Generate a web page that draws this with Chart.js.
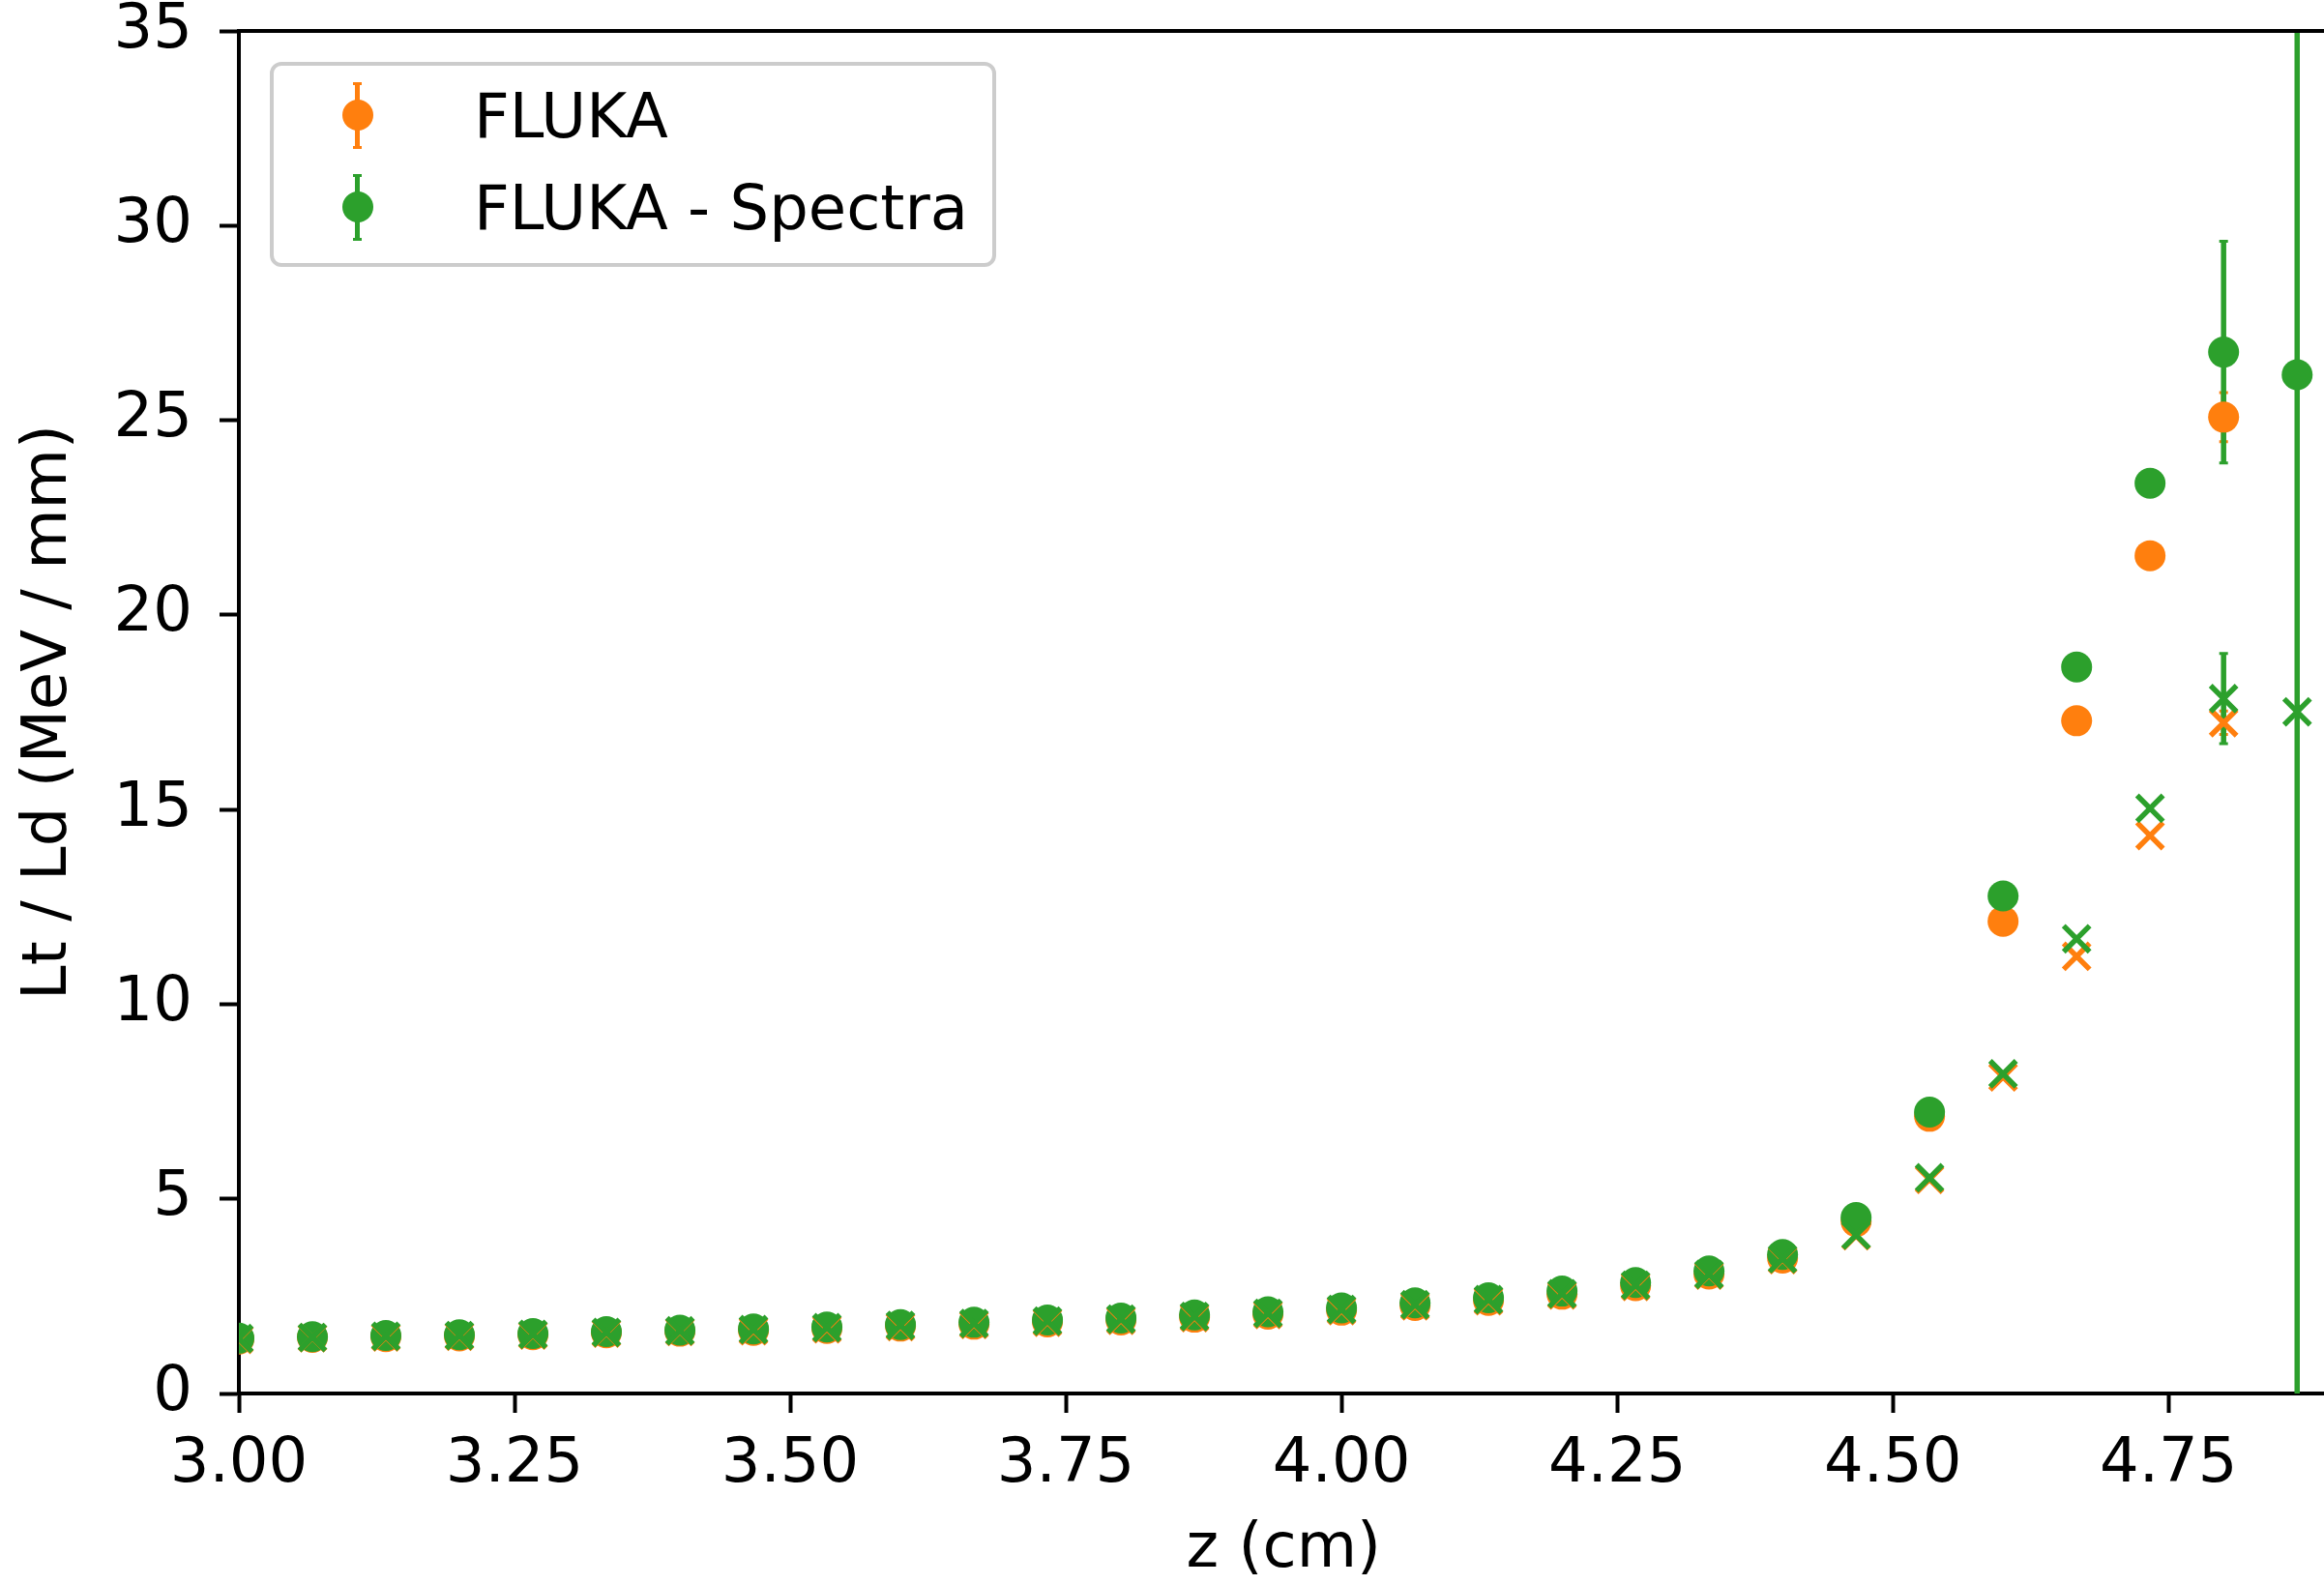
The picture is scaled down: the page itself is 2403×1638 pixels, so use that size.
<!DOCTYPE html>
<html>
<head>
<meta charset="utf-8">
<script src="https://cdn.jsdelivr.net/npm/chart.js@4.4.1/dist/chart.umd.min.js"></script>
<style>
  html, body { margin: 0; padding: 0; background: #fff; overflow: hidden; }
  #wrap { position: relative; width: 2432px; height: 1638px; }
  #grafico { display: block; width: 2432px; height: 1638px; }
  #legend {
    position: absolute; left: 279px; top: 64px; width: 743px; height: 204px;
    border: 4px solid #cccccc; border-radius: 12px; background: rgba(255,255,255,0.8);
    font-family: "DejaVu Sans", sans-serif; font-size: 64px; color: #000;
  }
  .item { position: absolute; left: 0; width: 100%; height: 95px; }
  .mk { position: absolute; left: 71px; width: 32px; height: 95px; }
  .mk .bar { position: absolute; left: 13px; top: 16px; width: 5px; height: 66px; }
  .mk .cap { position: absolute; left: 11px; width: 9px; height: 3px; }
  .mk .dot { position: absolute; left: 0; top: 33px; width: 32px; height: 32px; border-radius: 50%; }
  .lbl { position: absolute; left: 207px; top: 18px; line-height: 64px; white-space: nowrap; }
</style>
</head>
<body>
<div id="wrap">
  <canvas id="grafico" width="2432" height="1638"></canvas>
  <div id="legend"></div>
</div>
<script>
// z (cm)
const zVals = [3.0, 3.0667, 3.1333, 3.2, 3.2667, 3.3333, 3.4, 3.4667, 3.5333, 3.6, 3.6667, 3.7333, 3.8, 3.8667, 3.9333,
  4.0, 4.0667, 4.1333, 4.2, 4.2667, 4.3333, 4.4, 4.4667, 4.5333, 4.6, 4.6667, 4.7333, 4.8, 4.8667];

// FLUKA (circulos y cruces)
const flukaCirc = [1.40, 1.44, 1.46, 1.48, 1.51, 1.56, 1.60, 1.62, 1.67, 1.73, 1.78, 1.84, 1.89, 1.96, 2.04,
  2.14, 2.26, 2.39, 2.55, 2.77, 3.07, 3.48, 4.42, 7.12, 12.13, 17.28, 21.52, 25.08];
const flukaCircErr = [0, 0, 0, 0, 0, 0, 0, 0, 0, 0, 0, 0, 0, 0, 0, 0, 0, 0, 0, 0, 0, 0, 0, 0, 0, 0, 0, 0.63];
const flukaCruz = [1.39, 1.43, 1.45, 1.47, 1.50, 1.55, 1.59, 1.61, 1.66, 1.72, 1.77, 1.83, 1.88, 1.95, 2.03,
  2.13, 2.25, 2.38, 2.53, 2.75, 3.04, 3.44, 4.05, 5.50, 8.13, 11.23, 14.33, 17.23];
const flukaCruzErr = [0, 0, 0, 0, 0, 0, 0, 0, 0, 0, 0, 0, 0, 0, 0, 0, 0, 0, 0, 0, 0, 0, 0, 0, 0, 0, 0, 0.3];

// FLUKA - Spectra
const spectraCirc = [1.42, 1.46, 1.49, 1.51, 1.54, 1.59, 1.63, 1.66, 1.71, 1.77, 1.83, 1.89, 1.94, 2.02, 2.10,
  2.20, 2.33, 2.46, 2.63, 2.85, 3.15, 3.57, 4.52, 7.23, 12.78, 18.66, 23.38, 26.75, 26.17];
const spectraCircErr = [0, 0, 0, 0, 0, 0, 0, 0, 0, 0, 0, 0, 0, 0, 0, 0, 0, 0, 0, 0, 0, 0, 0, 0, 0, 0, 0, 2.85, 60];
const spectraCruz = [1.41, 1.44, 1.47, 1.49, 1.52, 1.57, 1.61, 1.64, 1.69, 1.75, 1.80, 1.86, 1.91, 1.98, 2.06,
  2.16, 2.28, 2.41, 2.56, 2.78, 3.06, 3.46, 4.07, 5.54, 8.21, 11.68, 15.03, 17.85, 17.51];
const spectraCruzErr = [0, 0, 0, 0, 0, 0, 0, 0, 0, 0, 0, 0, 0, 0, 0, 0, 0, 0, 0, 0, 0, 0, 0, 0, 0, 0, 0, 1.16, 0];

const xTicks = [3.0, 3.25, 3.5, 3.75, 4.0, 4.25, 4.5, 4.75];
const yTicks = [0, 5, 10, 15, 20, 25, 30, 35];
const leyenda = ['FLUKA', 'FLUKA - Spectra'];

const NARANJA = '#ff7f0e';
const VERDE = '#2ca02c';
const FUENTE = { family: 'DejaVu Sans', size: 64, lineHeight: 1 };

function puntos(ys, errs) {
  return ys.map((y, i) => ({ x: zVals[i], y: y, err: errs[i] }));
}

function serie(label, ys, errs, color, estilo, orden) {
  const circ = estilo === 'circle';
  return {
    label: label,
    data: puntos(ys, errs),
    showLine: false,
    pointStyle: estilo,
    pointRadius: circ ? 16 : 19,
    pointHoverRadius: circ ? 16 : 19,
    pointBorderWidth: circ ? 0 : 5.5,
    backgroundColor: color,
    borderColor: color,
    clip: 0,
    order: orden
  };
}

// barras de error + borde superior
const errorBars = {
  id: 'errorBars',
  beforeDatasetsDraw(chart) {
    const { ctx, chartArea: a, scales: { x, y } } = chart;
    ctx.save();
    ctx.beginPath();
    ctx.rect(a.left, a.top, a.right - a.left, a.bottom - a.top);
    ctx.clip();
    chart.data.datasets.forEach(ds => {
      ctx.strokeStyle = ds.borderColor;
      ds.data.forEach(p => {
        if (!p.err) return;
        const px = x.getPixelForValue(p.x);
        const y1 = y.getPixelForValue(p.y + p.err);
        const y2 = y.getPixelForValue(p.y - p.err);
        ctx.lineWidth = 5.5;
        ctx.beginPath();
        ctx.moveTo(px, y1); ctx.lineTo(px, y2);
        ctx.stroke();
        ctx.lineWidth = 3;
        ctx.beginPath();
        ctx.moveTo(px - 4.5, y1); ctx.lineTo(px + 4.5, y1);
        ctx.moveTo(px - 4.5, y2); ctx.lineTo(px + 4.5, y2);
        ctx.stroke();
      });
    });
    ctx.restore();
  },
  afterDraw(chart) {
    const { ctx, chartArea: a } = chart;
    ctx.save();
    ctx.strokeStyle = '#000';
    ctx.lineWidth = 4;
    ctx.beginPath();
    ctx.moveTo(a.left - 2, a.top); ctx.lineTo(a.right, a.top);
    ctx.stroke();
    ctx.restore();
  }
};

const ctx = document.getElementById('grafico').getContext('2d');
const chart = new Chart(ctx, {
  type: 'scatter',
  data: {
    datasets: [
      serie(leyenda[0], flukaCirc, flukaCircErr, NARANJA, 'circle', 4),
      serie(leyenda[1], spectraCirc, spectraCircErr, VERDE, 'circle', 3),
      serie('', flukaCruz, flukaCruzErr, NARANJA, 'crossRot', 2),
      serie('', spectraCruz, spectraCruzErr, VERDE, 'crossRot', 1)
    ]
  },
  options: {
    responsive: false,
    animation: false,
    devicePixelRatio: 1,
    layout: { padding: { left: 0, right: 1, top: 32, bottom: 0 } },
    plugins: { legend: { display: false }, tooltip: { enabled: false } },
    scales: {
      x: {
        type: 'linear', min: 3.0, max: 4.895,
        afterBuildTicks: s => { s.ticks = xTicks.map(v => ({ value: v })); },
        afterFit: s => { s.height = 197; s.paddingLeft = 0; s.paddingRight = 0; },
        ticks: { font: FUENTE, color: '#000', padding: 22, maxRotation: 0, autoSkip: false,
          callback: v => Number(v).toFixed(2) },
        grid: { drawOnChartArea: false, drawTicks: true, tickLength: 20, tickWidth: 4, tickColor: '#000' },
        border: { display: true, color: '#000', width: 4 },
        title: { display: true, text: 'z (cm)', font: FUENTE, color: '#000', padding: { top: 0, bottom: 3 } }
      },
      y: {
        type: 'linear', min: 0, max: 35,
        afterBuildTicks: s => { s.ticks = yTicks.map(v => ({ value: v })); },
        afterFit: s => { s.width = 247; s.paddingTop = 0; s.paddingBottom = 0; },
        ticks: { font: FUENTE, color: '#000', padding: 28, autoSkip: false, callback: v => String(v) },
        grid: { drawOnChartArea: false, drawTicks: true, tickLength: 20, tickWidth: 4, tickColor: '#000' },
        border: { display: true, color: '#000', width: 4 },
        title: { display: true, text: 'Lt / Ld (MeV / mm)', font: FUENTE, color: '#000', padding: { top: 19, bottom: 0 } }
      }
    }
  },
  plugins: [errorBars]
});

// leyenda en HTML (marcador con barra de error)
const legDiv = document.getElementById('legend');
[[leyenda[0], NARANJA], [leyenda[1], VERDE]].forEach(([txt, col], i) => {
  const it = document.createElement('div');
  it.className = 'item';
  it.style.top = (2 + i * 95) + 'px';
  it.innerHTML = `<div class="mk"><div class="bar" style="background:${col}"></div>` +
    `<div class="cap" style="top:15px;background:${col}"></div><div class="cap" style="top:81px;background:${col}"></div>` +
    `<div class="dot" style="background:${col}"></div></div><div class="lbl">${txt}</div>`;
  legDiv.appendChild(it);
});
</script>
</body>
</html>
